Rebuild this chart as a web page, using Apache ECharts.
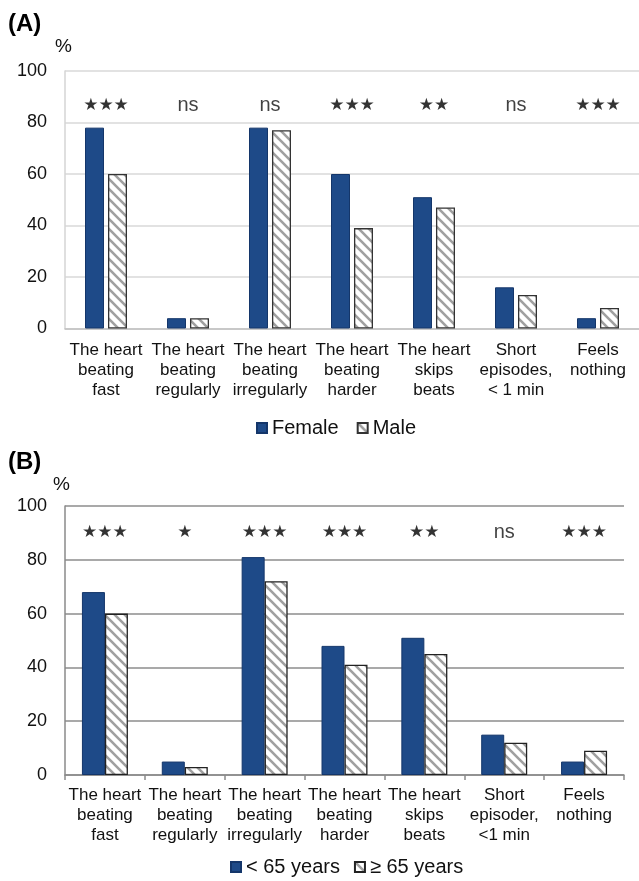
<!DOCTYPE html>
<html>
<head>
<meta charset="utf-8">
<script src="https://cdn.jsdelivr.net/npm/echarts@6/dist/echarts.min.js"></script>
<style>
html,body{margin:0;padding:0;background:#fff;}
#chart{width:639px;height:881px;}
</style>
</head>
<body>
<div id="chart"></div>
<script>
// ---- data ----
const categoriesA = ['The heart\nbeating\nfast', 'The heart\nbeating\nregularly', 'The heart\nbeating\nirregularly', 'The heart\nbeating\nharder', 'The heart\nskips\nbeats', 'Short\nepisodes,\n< 1 min', 'Feels\nnothing'];
const categoriesB = ['The heart\nbeating\nfast', 'The heart\nbeating\nregularly', 'The heart\nbeating\nirregularly', 'The heart\nbeating\nharder', 'The heart\nskips\nbeats', 'Short\nepisoder,\n<1 min', 'Feels\nnothing'];
const female = [78, 4, 78, 60, 51, 16, 4];
const male = [60, 4, 77, 39, 47, 13, 8];
const under65 = [68, 5, 81, 48, 51, 15, 5];
const over65 = [60, 3, 72, 41, 45, 12, 9];
const sigA = ['★★★', 'ns', 'ns', '★★★', '★★', 'ns', '★★★'];
const sigB = ['★★★', '★', '★★★', '★★★', '★★', 'ns', '★★★'];
const yTicks = [0, 20, 40, 60, 80, 100];
const seriesNamesA = ['Female', 'Male'];
const seriesNamesB = ['< 65 years', '≥ 65 years'];

// ---- styles ----
const BLUE = '#1e4a88';
const BLUE_BORDER = '#14366a';
const SIG_Y_A = 86.5;
const SIG_Y_B = 90;
const FONT = 'Liberation Sans, Arial, sans-serif';

function hatch() {
  const c = document.createElement('canvas');
  const s = 10;
  c.width = s; c.height = s;
  const g = c.getContext('2d');
  g.fillStyle = '#ffffff';
  g.fillRect(0, 0, s, s);
  g.strokeStyle = '#a0a0a0';
  g.lineWidth = 2.6;
  g.beginPath();
  g.moveTo(-3, -3); g.lineTo(s + 3, s + 3);
  g.moveTo(-3, s - 3); g.lineTo(3, s + 3);
  g.moveTo(s - 3, -3); g.lineTo(s + 3, 3);
  g.stroke();
  return c;
}
const pattern = { image: hatch(), repeat: 'repeat' };

const chart = echarts.init(document.getElementById('chart'), null, { renderer: 'canvas' });

function sigSeries(idx, labels, yVal) {
  return {
    type: 'scatter',
    xAxisIndex: idx, yAxisIndex: idx,
    symbolSize: 0,
    silent: true,
    data: labels.map(() => yVal),
    label: {
      show: true, position: 'inside',
      formatter: p => labels[p.dataIndex].indexOf('★') >= 0 ? '{s|' + labels[p.dataIndex] + '}' : '{n|' + labels[p.dataIndex] + '}',
      rich: {
        s: { fontFamily: 'DejaVu Sans', fontSize: 17, color: '#000' },
        n: { fontFamily: FONT, fontSize: 20, color: '#111' }
      }
    }
  };
}

function xAxis(idx, cats, lineColor, ticks, margin) {
  return {
    type: 'category', gridIndex: idx, data: cats,
    axisLine: { show: true, lineStyle: { color: lineColor, width: 1.5 } },
    axisTick: { show: ticks, length: 5, interval: 0, lineStyle: { color: lineColor, width: 1.5 } },
    axisLabel: { interval: 0, margin: margin, fontFamily: FONT, fontSize: 17, lineHeight: 20, color: '#111' }
  };
}
function yAxis(idx, lineColor, gridColor) {
  return {
    type: 'value', gridIndex: idx, min: yTicks[0], max: yTicks[yTicks.length - 1], interval: yTicks[1] - yTicks[0],
    axisLine: { show: true, lineStyle: { color: lineColor, width: 1.5 } },
    axisTick: { show: false },
    splitLine: { show: true, lineStyle: { color: gridColor, width: 1.5 } },
    axisLabel: { margin: 18, fontFamily: FONT, fontSize: 18, color: '#111' }
  };
}

const option = {
  animation: false,
  backgroundColor: '#ffffff',
  grid: [
    { left: 65, right: 0, top: 71, bottom: 881 - 328.5 },
    { left: 65, right: 15, top: 506, bottom: 881 - 775 }
  ],
  legend: [
    { data: seriesNamesA, left: 256, top: 418, icon: 'rect', itemWidth: 10, itemHeight: 10, itemGap: 18, padding: 0,
      textStyle: { fontFamily: FONT, fontSize: 20, color: '#111' } },
    { data: seriesNamesB, left: 230, top: 857, icon: 'rect', itemWidth: 10, itemHeight: 10, itemGap: 14, padding: 0,
      textStyle: { fontFamily: FONT, fontSize: 20, color: '#111' } }
  ],
  graphic: [
    { type: 'text', left: 8, top: 12, style: { text: '(A)', font: 'bold 24px ' + FONT, fill: '#000' } },
    { type: 'text', left: 55, top: 37, style: { text: '%', font: '19px ' + FONT, fill: '#111' } },
    { type: 'text', left: 8, top: 450, style: { text: '(B)', font: 'bold 24px ' + FONT, fill: '#000' } },
    { type: 'text', left: 53, top: 475, style: { text: '%', font: '19px ' + FONT, fill: '#111' } }
  ],
  xAxis: [
    xAxis(0, categoriesA, '#c0c0c0', false, 12),
    xAxis(1, categoriesB, '#8a8a8a', true, 10.5)
  ],
  yAxis: [
    yAxis(0, '#d4d4d4', '#d9d9d9'),
    yAxis(1, '#8a8a8a', '#8c8c8c')
  ],
  series: [
    { name: seriesNamesA[0], type: 'bar', xAxisIndex: 0, yAxisIndex: 0, data: female, barWidth: 19, barGap: '21%',
      itemStyle: { color: BLUE, borderColor: BLUE_BORDER, borderWidth: 1 } },
    { name: seriesNamesA[1], type: 'bar', xAxisIndex: 0, yAxisIndex: 0, data: male, barWidth: 19, barGap: '21%',
      itemStyle: { color: pattern, borderColor: '#333', borderWidth: 1.3 } },
    { name: seriesNamesB[0], type: 'bar', xAxisIndex: 1, yAxisIndex: 1, data: under65, barWidth: 23, barGap: '0%',
      itemStyle: { color: BLUE, borderColor: BLUE_BORDER, borderWidth: 1 } },
    { name: seriesNamesB[1], type: 'bar', xAxisIndex: 1, yAxisIndex: 1, data: over65, barWidth: 23, barGap: '0%',
      itemStyle: { color: pattern, borderColor: '#222', borderWidth: 1.3 } },
    sigSeries(0, sigA, SIG_Y_A),
    sigSeries(1, sigB, SIG_Y_B)
  ]
};
chart.setOption(option);
</script>
</body>
</html>
